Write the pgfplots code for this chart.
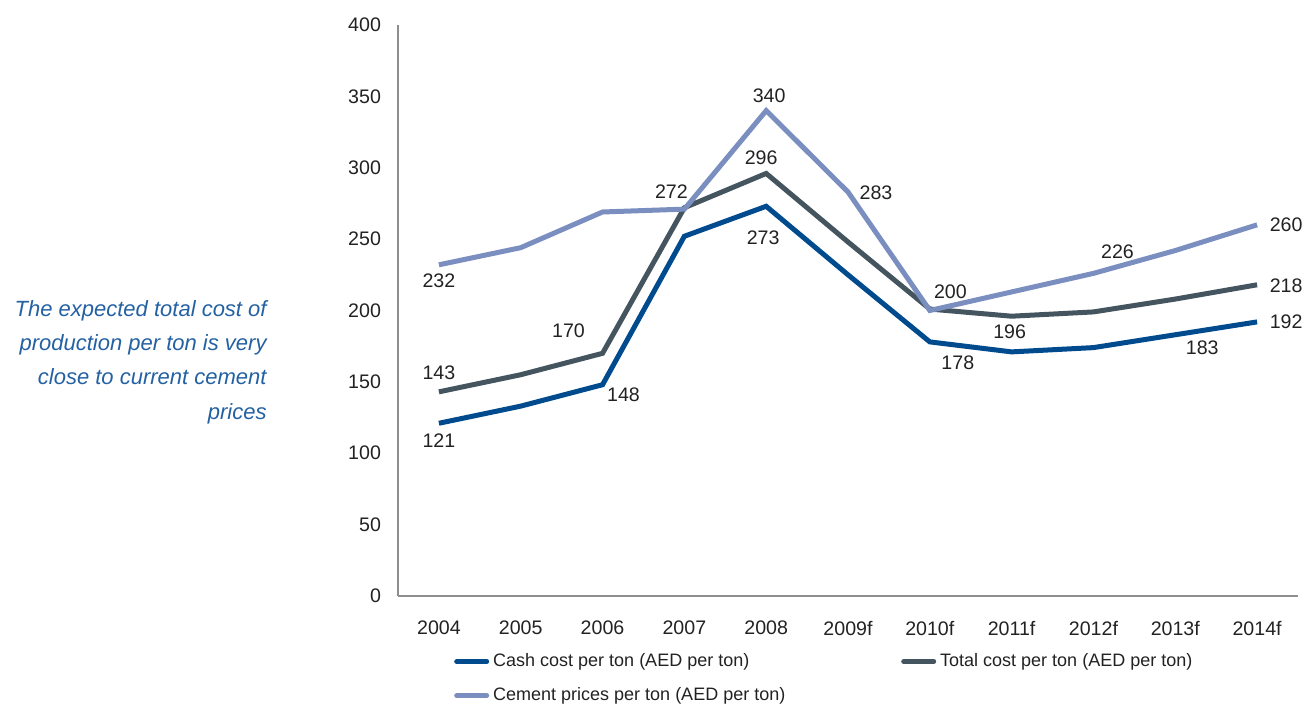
\documentclass[border=0pt]{standalone}
\usepackage{pgfplots}
\pgfplotsset{compat=1.18}
\usepackage{fontspec}
\setmainfont{Liberation Sans}
\definecolor{cashc}{HTML}{004B8D}
\definecolor{totalc}{HTML}{455560}
\definecolor{cementc}{HTML}{7B8EC0}
\definecolor{notec}{HTML}{2461A3}
\definecolor{axisc}{HTML}{8E8E8E}
\definecolor{txtc}{HTML}{222222}
\begin{document}
\begin{tikzpicture}[font=\fontsize{9}{11}\selectfont]
\useasboundingbox (-199pt,-54pt) rectangle (453pt,298pt);
\begin{axis}[at={(0,0)}, anchor=south west, scale only axis,
  width=450pt, height=285.5pt,
  xmin=-0.5, xmax=10.5, ymin=0, ymax=400,
  axis x line*=bottom, axis y line*=left,
  axis line style={axisc, line width=1pt, -},
  xtick={0,...,10},
  xticklabels={2004,2005,2006,2007,2008,2009f,2010f,2011f,2012f,2013f,2014f},
  ytick={0,50,...,400},
  major tick length=0pt, tick style={draw=none},
  ticklabel style={text=txtc, font=\fontsize{9.8}{11}\selectfont},
  yticklabel style={xshift=-5pt},
  xticklabel style={yshift=-9pt},
  /pgf/number format/assume math mode=true,
  legend columns=2,
  legend cell align=left,
  legend style={at={(axis description cs:0.062,-0.093)}, anchor=north west,
    draw=none, fill=none, row sep=5pt, inner sep=0pt,
    font=\fontsize{9}{11}\selectfont, text=txtc,
    /tikz/every even column/.append style={column sep=0pt}},
  legend image code/.code={\draw[#1, line width=2.5pt, line cap=round] (0pt,0pt) -- (15pt,0pt);},
  every axis plot/.append style={line width=2.5pt, line join=miter, mark=none},
  clip=false,
]
\addplot[cashc] coordinates {(0,121) (1,133) (2,148) (3,252) (4,273) (5,225) (6,178) (7,171) (8,174) (9,183) (10,192)};
\addlegendentry{\makebox[202pt][l]{Cash cost per ton (AED per ton)}}
\addplot[totalc] coordinates {(0,143) (1,155) (2,170) (3,272) (4,296) (5,248) (6,201) (7,196) (8,199) (9,208) (10,218)};
\addlegendentry{Total cost per ton (AED per ton)}
\addplot[cementc] coordinates {(0,232) (1,244) (2,269) (3,271) (4,340) (5,283) (6,200) (7,213) (8,226) (9,242) (10,260)};
\addlegendentry{Cement prices per ton (AED per ton)}
\begin{scope}[every node/.style={text=txtc, font=\fontsize{9.8}{11}\selectfont, inner sep=0pt}]
\node at (axis cs:0,232) [yshift=-8pt] {232};
\node at (axis cs:0,143) [yshift=9.5pt] {143};
\node at (axis cs:0,121) [yshift=-8.5pt] {121};
\node at (axis cs:2,170) [xshift=-17pt, yshift=11.5pt] {170};
\node at (axis cs:2,148) [xshift=10.5pt, yshift=-5pt] {148};
\node at (axis cs:3,272) [xshift=-6.5pt, yshift=8pt] {272};
\node at (axis cs:4,340) [xshift=1.5pt, yshift=7.3pt] {340};
\node at (axis cs:4,296) [xshift=-2.5pt, yshift=7.6pt] {296};
\node at (axis cs:4,273) [xshift=-1.5pt, yshift=-15.5pt] {273};
\node at (axis cs:5,283) [xshift=14pt, yshift=-0.5pt] {283};
\node at (axis cs:6,200) [xshift=10.3pt, yshift=9.4pt] {200};
\node at (axis cs:6,178) [xshift=14pt, yshift=-10.5pt] {178};
\node at (axis cs:7,196) [xshift=-1pt, yshift=-7.7pt] {196};
\node at (axis cs:8,226) [xshift=12pt, yshift=10.8pt] {226};
\node at (axis cs:9,183) [xshift=13.5pt, yshift=-6.7pt] {183};
\node at (axis cs:10,260) [xshift=14.5pt] {260};
\node at (axis cs:10,218) [xshift=14.5pt, yshift=-0.6pt] {218};
\node at (axis cs:10,192) [xshift=14.5pt] {192};
\end{scope}
\end{axis}
\node[anchor=east, align=right, inner sep=0pt, text=notec,
  font=\fontsize{11}{17.2}\selectfont\itshape] at (-65.5pt,117pt)
  {The expected total cost of\\production per ton is very\\close to current cement\\prices};
\end{tikzpicture}
\end{document}
